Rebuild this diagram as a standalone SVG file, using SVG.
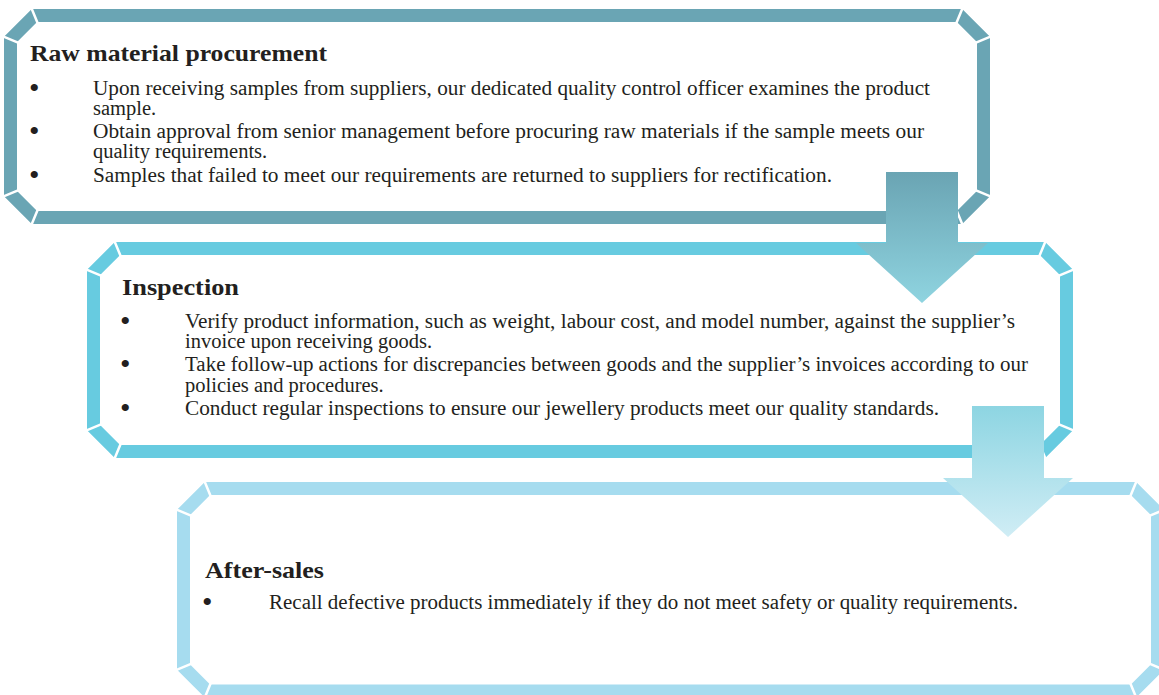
<svg xmlns="http://www.w3.org/2000/svg" width="1159" height="695" viewBox="0 0 1159 695">
  <defs>
    <linearGradient id="arrowGrad1" x1="0" y1="0" x2="0" y2="1">
      <stop offset="0" stop-color="#6aa4b3"/>
      <stop offset="1" stop-color="#8fd4e0"/>
    </linearGradient>
    <linearGradient id="arrowGrad2" x1="0" y1="0" x2="0" y2="1">
      <stop offset="0" stop-color="#8dd5e2"/>
      <stop offset="1" stop-color="#d0edf5"/>
    </linearGradient>
  </defs>
  <style>
    .frame { fill: none; stroke-width: 13; stroke-linejoin: miter; }
    .f1 { stroke: #6aa5b4; }
    .f2 { stroke: #67cbe0; }
    .f3 { stroke: #a6dcef; }
    .cut { fill: none; stroke: #ffffff; stroke-width: 2.5; }
    .title { font-family: "Liberation Serif", "Times New Roman", serif; font-weight: bold; font-size: 23px; fill: #231f20; }
    .body { font-family: "Liberation Serif", "Times New Roman", serif; font-size: 20.5px; fill: #231f20; }
    .dot { font-family: "Liberation Serif", "Times New Roman", serif; font-size: 30px; fill: #231f20; }
  </style>
  <rect width="1159" height="695" fill="#ffffff"/>

  <!-- Stage 1: raw material procurement -->
  <g id="node-procurement">
    <path class="frame f1" d="M34.5,15.5 L959.5,15.5 L983.5,39.5 L983.5,193.5 L959.5,217.5 L34.5,217.5 L10.5,193.5 L10.5,39.5 Z"/>
    <path class="cut" d="M31.4,8 L37.6,23 M3,36.4 L18,42.6 M962.6,8 L956.4,23 M991,36.4 L976,42.6 M991,196.6 L976,190.4 M962.6,225 L956.4,210 M31.4,225 L37.6,210 M3,196.6 L18,190.4"/>
    <text class="title" x="30" y="61" textLength="297" lengthAdjust="spacingAndGlyphs">Raw material procurement</text>
    <text class="dot" x="29" y="98">•</text>
    <text class="body" x="93" y="95" textLength="837" lengthAdjust="spacingAndGlyphs">Upon receiving samples from suppliers, our dedicated quality control officer examines the product</text>
    <text class="body" x="93" y="115">sample.</text>
    <text class="dot" x="29" y="141">•</text>
    <text class="body" x="93" y="138" textLength="831" lengthAdjust="spacingAndGlyphs">Obtain approval from senior management before procuring raw materials if the sample meets our</text>
    <text class="body" x="93" y="158">quality requirements.</text>
    <text class="dot" x="29" y="185">•</text>
    <text class="body" x="93" y="182" textLength="739" lengthAdjust="spacingAndGlyphs">Samples that failed to meet our requirements are returned to suppliers for rectification.</text>
  </g>

  <!-- Stage 2: inspection -->
  <g id="node-inspection">
    <path class="frame f2" d="M117.5,248.5 L1042.5,248.5 L1066.5,272.5 L1066.5,427.5 L1042.5,451.5 L117.5,451.5 L93.5,427.5 L93.5,272.5 Z"/>
    <path class="cut" d="M114.4,241 L120.6,256 M86,269.4 L101,275.6 M1045.6,241 L1039.4,256 M1074,269.4 L1059,275.6 M1074,430.6 L1059,424.4 M1045.6,459 L1039.4,444 M114.4,459 L120.6,444 M86,430.6 L101,424.4"/>
    <text class="title" x="122" y="295" textLength="117" lengthAdjust="spacingAndGlyphs">Inspection</text>
    <text class="dot" x="120" y="331">•</text>
    <text class="body" x="185" y="328" textLength="830" lengthAdjust="spacingAndGlyphs">Verify product information, such as weight, labour cost, and model number, against the supplier’s</text>
    <text class="body" x="185" y="348">invoice upon receiving goods.</text>
    <text class="dot" x="120" y="374">•</text>
    <text class="body" x="185" y="371" textLength="843" lengthAdjust="spacingAndGlyphs">Take follow-up actions for discrepancies between goods and the supplier’s invoices according to our</text>
    <text class="body" x="185" y="392">policies and procedures.</text>
    <text class="dot" x="120" y="418">•</text>
    <text class="body" x="185" y="415" textLength="754" lengthAdjust="spacingAndGlyphs">Conduct regular inspections to ensure our jewellery products meet our quality standards.</text>
  </g>

  <!-- Stage 3: after-sales -->
  <g id="node-aftersales">
    <path class="frame f3" d="M207.5,488.5 L1133.5,488.5 L1157.5,512.5 L1157.5,667 L1133.5,691 L207.5,691 L183.5,667 L183.5,512.5 Z"/>
    <path class="cut" d="M204.4,481 L210.6,496 M176,509.4 L191,515.6 M1136.6,481 L1130.4,496 M1165,509.4 L1150,515.6 M1165,670.1 L1150,663.9 M1136.6,698.5 L1130.4,683.5 M204.4,698.5 L210.6,683.5 M176,670.1 L191,663.9"/>
    <text class="title" x="205" y="578" textLength="119" lengthAdjust="spacingAndGlyphs">After-sales</text>
    <text class="dot" x="202" y="612">•</text>
    <text class="body" x="269" y="609" textLength="749" lengthAdjust="spacingAndGlyphs">Recall defective products immediately if they do not meet safety or quality requirements.</text>
  </g>

  <!-- Block arrows between stages -->
  <g id="connectors">
    <polygon fill="url(#arrowGrad1)" points="886,172 958,172 958,243 988,243 922,303 856,243 886,243"/>
    <polygon fill="url(#arrowGrad2)" points="972,406 1044,406 1044,478 1073,478 1008,537 943,478 972,478"/>
  </g>
</svg>
